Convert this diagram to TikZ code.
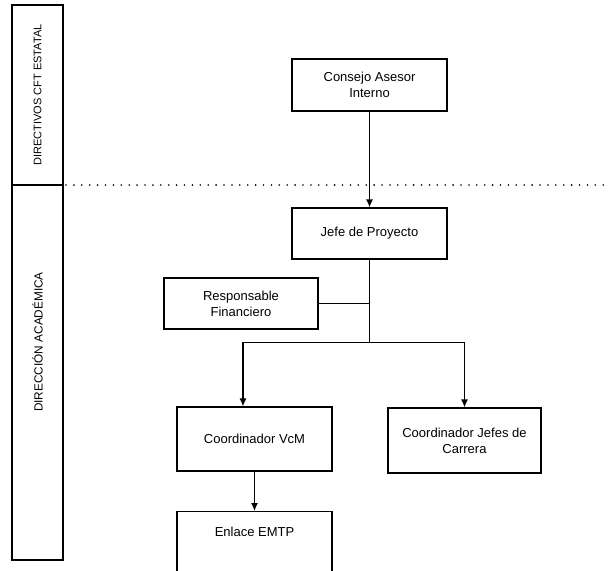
\documentclass[tikz,border=0pt]{standalone}
\usepackage{fontspec}
\setmainfont{Liberation Sans}
\usetikzlibrary{arrows.meta}
\begin{document}
\begin{tikzpicture}[x=1pt,y=1pt,
  box/.style={draw, line width=1.25pt, inner sep=0pt, align=center, font=\fontsize{13}{16}\selectfont},
  lane/.style={draw, line width=1.5pt},
  arr/.style={line width=1.25pt, -{Latex[length=8pt,width=7pt]}},
  conn/.style={line width=1.25pt},
  lanelabel/.style={rotate=90, inner sep=0pt}]
\useasboundingbox (0,0) rectangle (609,-570);
% lanes
\draw[lane] (12,-5) rectangle (63,-560);
\draw[lane] (12,-185) -- (63,-185) coordinate (divR);
\node[lanelabel, font=\fontsize{11}{12}\selectfont] (l1) at (37.5,-95) {DIRECTIVOS CFT ESTATAL};
\node[lanelabel, font=\fontsize{11.8}{13}\selectfont] (l2) at (37.5,-342) {DIRECCIÓN ACADÉMICA};
\coordinate (dotEnd) at (609,-185);
\draw[line width=1.8pt, line cap=round, dash pattern=on 0pt off 7.9pt] (divR) ++(3,0) -- (dotEnd);
% nodes
\node[box, minimum width=155, minimum height=52] (cons) at (369.5,-85) {Consejo Asesor\\Interno};
\node[box, minimum width=155, minimum height=51] (jefe) at (369.5,-233.5) {Jefe de Proyecto};
\node[box, minimum width=154, minimum height=51] (resp) at (241,-303.5) {Responsable\\Financiero};
\node[box, minimum width=155, minimum height=64] (vcm) at (254.5,-439) {Coordinador VcM};
\node[box, minimum width=153, minimum height=65] (jc) at (464.5,-440.5) {Coordinador Jefes de\\Carrera};
\node[box, minimum width=155, minimum height=70, anchor=north,
  label={[anchor=center, yshift=-21pt, font=\fontsize{13}{16}\selectfont]north:Enlace EMTP}] (enl) at (254.5,-511) {};
% connectors
\draw[arr] (cons.south) -- (jefe.north);
\draw[conn] (jefe.south) -- ++(0,-83) coordinate (bus);
\draw[conn] (resp.east) -- (resp.east -| bus);
\draw[arr] (bus) -| ([xshift=-11.5pt]vcm.north);
\draw[arr] (bus) -| (jc.north);
\draw[arr] (vcm.south) -- (enl.north);
\end{tikzpicture}
\end{document}
